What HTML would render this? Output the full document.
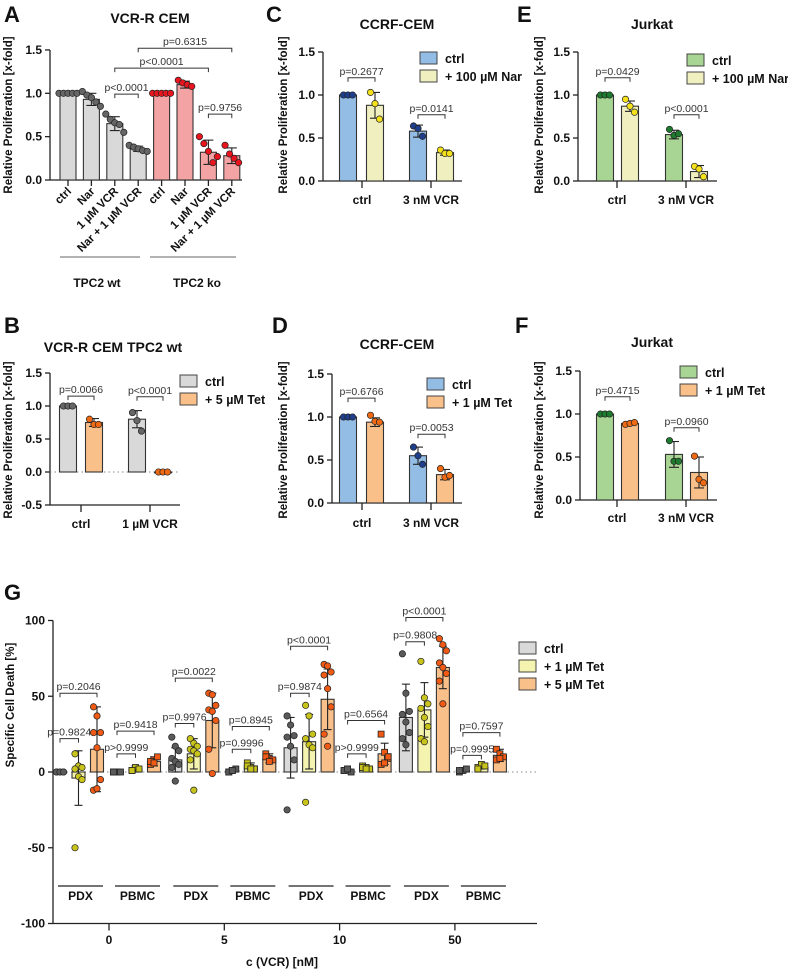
<!DOCTYPE html>
<html><head><meta charset="utf-8"><style>
html,body{margin:0;padding:0;background:#fff;}
svg{display:block;font-family:"Liberation Sans",Arial,sans-serif;}
</style></head><body>
<svg id="fig" width="788" height="970" viewBox="0 0 788 970" xmlns="http://www.w3.org/2000/svg"></svg>
<script>
// ---------- DATA ----------
const catsA = ['ctrl','Nar','1 µM VCR','Nar + 1 µM VCR','ctrl','Nar','1 µM VCR','Nar + 1 µM VCR'];
const meanA = [1.0,0.93,0.65,0.36,1.0,1.1,0.32,0.28];
const errA = [0.0,0.07,0.08,0.03,0.0,0.04,0.14,0.09];
const ptsA = [[1,1,1,1,1],[1.02,0.98,0.95,0.9,0.85],[0.76,0.7,0.66,0.64,0.55],[0.4,0.38,0.36,0.34,0.33],[1,1,1,1,1],[1.15,1.12,1.1,1.08],[0.5,0.42,0.33,0.2,0.27],[0.4,0.3,0.25,0.2]];
const ticksProlif = [0,0.5,1.0,1.5];
const ticksB = [-0.5,0,0.5,1.0,1.5];

const groupsBCDEF = ['ctrl','3 nM VCR'];
const groupsB = ['ctrl','1 µM VCR'];
const meanB = [[1.0,0.75],[0.8,0.0]];
const errB = [[0,0.06],[0.13,0]];
const ptsB = [[[1,1,1],[0.8,0.72,0.72]],[[0.9,0.78,0.62],[0,0,0]]];
const meanC = [[1.0,0.88],[0.58,0.33]];
const errC = [[0,0.15],[0.07,0.03]];
const ptsC = [[[1,1,1],[1.03,0.9,0.72]],[[0.64,0.61,0.52],[0.36,0.32,0.32]]];
const meanD = [[1.0,0.94],[0.55,0.33]];
const errD = [[0,0.05],[0.1,0.06]];
const ptsD = [[[1,1,1],[1.02,0.95,0.94]],[[0.65,0.55,0.45],[0.4,0.3,0.32]]];
const meanE = [[1.0,0.87],[0.54,0.11]];
const errE = [[0,0.06],[0.05,0.07]];
const ptsE = [[[1,1,1],[0.95,0.87,0.8]],[[0.6,0.53,0.55],[0.17,0.14,0.05]]];
const meanF = [[1.0,0.89],[0.53,0.32]];
const errF = [[0,0.01],[0.15,0.18]];
const ptsF = [[[1,1,1],[0.88,0.89,0.9]],[[0.69,0.45,0.45],[0.51,0.24,0.2]]];

const concG = ['0','5','10','50'];
const cellsG = ['PDX','PBMC'];
const seriesG = ['ctrl','+ 1 µM Tet','+ 5 µM Tet'];
const ticksG = [-100,-50,0,50,100];
const meanG = [[[0,-4,15],[0,2,7]],[[8,12,34],[1,4,9]],[[16,20,48],[1,3,12]],[[36,41,69],[1,3,11]]];
const errG = [[[0,18,28],[0,2,3]],[[8,10,18],[1,2,3]],[[20,18,20],[1,1,7]],[[22,18,14],[1,1,4]]];
const ptsG = [
 [[[0,0,0,0,0,0],[12,4,3,2,-3,-5,-50],[43,37,26,26,16,-5,-12,-11]],[[0,0,0,0],[1,3,2,1],[5,8,10,7,6]]],
 [[[23,17,14,9,7,5,3,-6],[22,19,17,15,14,12,8,-12],[52,51,44,41,40,34,15,-1]],[[0,1,2,0,1],[6,3,2,4,2],[12,9,8,10,7]]],
 [[[37,31,24,23,17,8,-25],[44,37,25,22,18,16,-20],[71,70,66,64,55,43,25,17]],[[1,2,0,1,2],[4,3,2,3,2],[25,13,9,5,6,10]]],
 [[[78,52,40,38,33,26,22,18],[73,49,45,42,36,30,22,20],[88,84,80,72,69,65,60,45]],[[0,1,2,1],[3,5,4,2],[15,12,10,8,9]]]
];
const pG = [[['p=0.2046',52],['p=0.9824',22],['p=0.9418',27],['p>0.9999',12]],
            [['p=0.0022',62],['p=0.9976',32],['p=0.8945',30],['p=0.9996',15]],
            [['p<0.0001',83],['p=0.9874',52],['p=0.6564',34],['p>0.9999',12]],
            [['p<0.0001',102],['p=0.9808',86],['p=0.7597',26],['p=0.9995',11]]];

// ---------- HELPERS ----------
const NS='http://www.w3.org/2000/svg';
const svg=document.getElementById('fig');
function mk(tag,attrs,parent){const e=document.createElementNS(NS,tag);for(const k in attrs)e.setAttribute(k,attrs[k]);(parent||svg).appendChild(e);return e;}
function tx(x,y,s,size,weight,anchor,parent,fill){const t=mk('text',{x:x,y:y,'font-size':size,'font-weight':weight||'bold','text-anchor':anchor||'middle',fill:fill||'#111'},parent);t.textContent=s;return t;}
function grp(name){const g=mk('g',{});return g;}

function yAxis(g,x,yf,ticks,fmt,ymin,ymax){
  const l=mk('line',{x1:x,x2:x,y1:yf(ymax),y2:yf(ymin),stroke:'#222','stroke-width':1.3},g);
  
  ticks.forEach(v=>{mk('line',{x1:x-5,x2:x,y1:yf(v),y2:yf(v),stroke:'#222','stroke-width':1.3},g);
    const t=tx(x-8,yf(v)+4,fmt(v),12,'bold','end',g);});
}
function bar(g,xc,w,yf,v,fill,name){
  const y0=yf(0),y1=yf(v);
  const r=mk('rect',{x:xc-w/2,y:Math.min(y0,y1),width:w,height:Math.max(0.8,Math.abs(y1-y0)),fill:fill,stroke:'#333','stroke-width':1.1},g);
  
}
function errbar(g,xc,yf,m,e,cap){
  if(e<=0)return;
  mk('line',{x1:xc,x2:xc,y1:yf(m-e),y2:yf(m+e),stroke:'#222','stroke-width':1.1},g);
  mk('line',{x1:xc-cap,x2:xc+cap,y1:yf(m+e),y2:yf(m+e),stroke:'#222','stroke-width':1.1},g);
  mk('line',{x1:xc-cap,x2:xc+cap,y1:yf(m-e),y2:yf(m-e),stroke:'#222','stroke-width':1.1},g);
}
function points(g,xc,yf,arr,color,spread,square){
  arr.forEach((v,j)=>{
    const n=arr.length;let dx;
    if(spread>0){dx=((j%3)-1)*spread;} else {dx=(j-(n-1)/2)*4.5;}
    let p;
    if(square){p=mk('rect',{x:xc+dx-3,y:yf(v)-3,width:6,height:6,fill:color,stroke:'#222','stroke-width':0.8},g);}
    else{p=mk('circle',{cx:xc+dx,cy:yf(v),r:3.2,fill:color,stroke:'#222','stroke-width':0.7},g);}
    
  });
}
function bracket(g,x1,x2,y,label){
  mk('path',{d:`M${x1},${y+4}V${y}H${x2}V${y+4}`,fill:'none',stroke:'#333','stroke-width':1},g);
  const t=tx((x1+x2)/2,y-3,label,10.5,'normal','middle',g,'#333');
}
function ylab(g,x,y,s){const t=tx(0,0,s,11.5,'bold','middle',g);t.setAttribute('transform',`translate(${x},${y}) rotate(-90)`);}
function letter(x,y,s){const t=tx(x,y,s,22,'bold','start');}
function legend(g,x,y,labels,colors,dy){
  labels.forEach((s,i)=>{const r=mk('rect',{x:x,y:y+i*dy-6,width:17,height:12,fill:colors[i],stroke:'#444','stroke-width':1},g);
    
    const t=tx(x+25,y+i*dy+5,s,12.5,'bold','start',g);});
}
const f1=v=>v.toFixed(1);

// ---------- PANEL A ----------
(function(){
  const g=grp('panel-a');
  letter(4,22,'A');
  const t=tx(150,23,'VCR-R CEM',14,'bold','middle',g);
  const yf=v=>180-v*86.7, xf=i=>68+i*23.4;
  yAxis(g,50,yf,ticksProlif,f1,0,1.5);
  const xa=mk('line',{x1:50,x2:242,y1:180,y2:180,stroke:'#222','stroke-width':1.3},g);
  catsA.forEach((c,i)=>{
    const red=i>=4;
    bar(g,xf(i),16,yf,meanA[i],red?'#f4a3a5':'#d9d9d9','bar-'+i);
    errbar(g,xf(i),yf,meanA[i],errA[i],5);
    points(g,xf(i),yf,ptsA[i],red?'#e8141e':'#666',0,false);
    mk('line',{x1:xf(i),x2:xf(i),y1:180,y2:186,stroke:'#222','stroke-width':1.3},g);
    const l=tx(0,0,c,11.5,'bold','end',g);l.setAttribute('transform',`translate(${xf(i)+4},${192}) rotate(-45)`);
    
  });
  bracket(g,xf(2),xf(3),yf(0.99),'p<0.0001');
  bracket(g,xf(6),xf(7),yf(0.76),'p=0.9756');
  bracket(g,xf(2),xf(6),yf(1.29),'p<0.0001');
  bracket(g,xf(3),xf(7),yf(1.52),'p=0.6315');
  mk('line',{x1:60,x2:140,y1:257,y2:257,stroke:'#666','stroke-width':1},g);
  mk('line',{x1:150,x2:236,y1:257,y2:257,stroke:'#666','stroke-width':1},g);
  let a=tx(97,287,'TPC2 wt',12,'bold','middle',g);
  a=tx(197,287,'TPC2 ko',12,'bold','middle',g);
  ylab(g,12,115,'Relative Proliferation [x-fold]');
})();

// ---------- GROUPED PANELS ----------
function grouped(name,L,lx,ly,title,tx0,ty,ax,yf,ticks,ymin,ymax,xf,groups,mean,err,pts,colA,colB,dotA,dotB,legLabels,legX,legY,pvals,pys,xEnd,tickX,labY,ylx,yly,dotted){
  const g=grp(name);
  letter(lx,ly,L);
  const t=tx(tx0,ty,title,14,'bold','middle',g);
  yAxis(g,ax,yf,ticks,f1,ymin,ymax);
  const xa=mk('line',{x1:ax,x2:xEnd,y1:yf(ymin),y2:yf(ymin),stroke:'#222','stroke-width':1.3},g);
  if(dotted){mk('line',{x1:ax,x2:xEnd,y1:yf(0),y2:yf(0),stroke:'#888','stroke-width':1,'stroke-dasharray':'1.5,3'},g);}
  groups.forEach((gn,gi)=>{
    [0,1].forEach(s=>{
      bar(g,xf(gi,s),17,yf,mean[gi][s],s?colB:colA,'bar-'+gi+'-'+s);
      errbar(g,xf(gi,s),yf,mean[gi][s],err[gi][s],5);
      points(g,xf(gi,s),yf,pts[gi][s],s?dotB:dotA,0,false);
    });
    mk('line',{x1:tickX(gi),x2:tickX(gi),y1:yf(ymin),y2:yf(ymin)+7,stroke:'#222','stroke-width':1.3},g);
    const l=tx(tickX(gi),labY,gn,12,'bold','middle',g);
    bracket(g,xf(gi,0),xf(gi,1),yf(pys[gi]),pvals[gi]);
  });
  legend(g,legX,legY,legLabels,[colA,colB],18);
  ylab(g,ylx,yly,'Relative Proliferation [x-fold]');
}
grouped('panel-b','B',4,333,'VCR-R CEM TPC2 wt',113,352,50,v=>472-v*66,ticksB,-0.5,1.5,(g,s)=>68+g*69+s*26,groupsB,meanB,errB,ptsB,'#d9d9d9','#f9c08a','#666','#f06a14',['ctrl','+ 5 µM Tet'],180,381,['p=0.0066','p<0.0001'],[1.15,1.14],180,g=>81+g*69,528,12,440,true);
grouped('panel-c','C',266,22,'CCRF-CEM',397,29,323,v=>181-v*86,ticksProlif,0,1.5,(g,s)=>348+g*70+s*27,groupsBCDEF,meanC,errC,ptsC,'#94bde6','#efefc0','#1f3e8c','#f5e11a',['ctrl','+ 100 µM Nar'],420,58,['p=0.2677','p=0.0141'],[1.2,0.77],462,g=>362+g*69,204,287,115,false);
grouped('panel-d','D',272,333,'CCRF-CEM',397,349,332,v=>503-v*86,ticksProlif,0,1.5,(g,s)=>348+g*70+s*27,groupsBCDEF,meanD,errD,ptsD,'#94bde6','#f9c08a','#1f3e8c','#f06a14',['ctrl','+ 1 µM Tet'],427,384,['p=0.6766','p=0.0053'],[1.22,0.8],462,g=>362+g*69,527,287,440,false);
grouped('panel-e','E',517,22,'Jurkat',652,29,578,v=>181-v*86,ticksProlif,0,1.5,(g,s)=>605+g*69+s*25,groupsBCDEF,meanE,errE,ptsE,'#a9d594','#efefc0','#1e7a2e','#f5e11a',['ctrl','+ 100 µM Nar'],687,60,['p=0.0429','p<0.0001'],[1.2,0.77],717,g=>617+g*69,204,543,115,false);
grouped('panel-f','F',515,333,'Jurkat',652,347,580,v=>500-v*86,ticksProlif,0,1.5,(g,s)=>605+g*69+s*25,groupsBCDEF,meanF,errF,ptsF,'#a9d594','#f9c08a','#1e7a2e','#f06a14',['ctrl','+ 1 µM Tet'],680,372,['p=0.4715','p=0.0960'],[1.2,0.84],717,g=>617+g*69,522,543,440,false);

// ---------- PANEL G ----------
(function(){
  const g=grp('panel-g');
  letter(4,600,'G');
  const yf=v=>772-v*1.515;
  const xf=(c,k,s)=>60+c*115.3+k*57+s*18.5;
  yAxis(g,53,yf,ticksG,v=>String(v),-100,100);
  const xa=mk('line',{x1:53,x2:537,y1:yf(-100),y2:yf(-100),stroke:'#222','stroke-width':1.3},g);
  mk('line',{x1:53,x2:537,y1:yf(0),y2:yf(0),stroke:'#888','stroke-width':1,'stroke-dasharray':'1.5,3'},g);
  const barCols=['#d9d9d9','#f5f3b0','#f9c08a'], dotCols=['#5a5a5a','#c9c41c','#f05a14'];
  concG.forEach((c,ci)=>{
    cellsG.forEach((cell,k)=>{
      seriesG.forEach((s,si)=>{
        const x=xf(ci,k,si);
        bar(g,x,13,yf,meanG[ci][k][si],barCols[si],'bar-'+c+'-'+cell+'-'+si);
        errbar(g,x,yf,meanG[ci][k][si],errG[ci][k][si],4);
        points(g,x,yf,ptsG[ci][k][si],dotCols[si],3.5,k===1);
      });
      mk('line',{x1:xf(ci,k,0)-2,x2:xf(ci,k,2)+6,y1:886,y2:886,stroke:'#222','stroke-width':1.2},g);
      const l=tx((xf(ci,k,0)+xf(ci,k,2))/2+2,900,cell,12,'bold','middle',g);
      bracket(g,xf(ci,k,0),xf(ci,k,2),yf(pG[ci][k*2][1]),pG[ci][k*2][0]);
      bracket(g,xf(ci,k,0),xf(ci,k,1),yf(pG[ci][k*2+1][1]),pG[ci][k*2+1][0]);
    });
    const tx0=xf(ci,0,2)+(xf(ci,1,0)-xf(ci,0,2))/2+2;
    mk('line',{x1:tx0,x2:tx0,y1:yf(-100),y2:yf(-100)+7,stroke:'#222','stroke-width':1.3},g);
    const l=tx(tx0,944,c,12,'bold','middle',g);
  });
  const xt=tx(282,966,'c (VCR) [nM]',12,'bold','middle',g);
  ylab(g,14,705,'Specific Cell Death  [%]');
  legend(g,519,648,seriesG,barCols,18);
})();
</script>
</body></html>
